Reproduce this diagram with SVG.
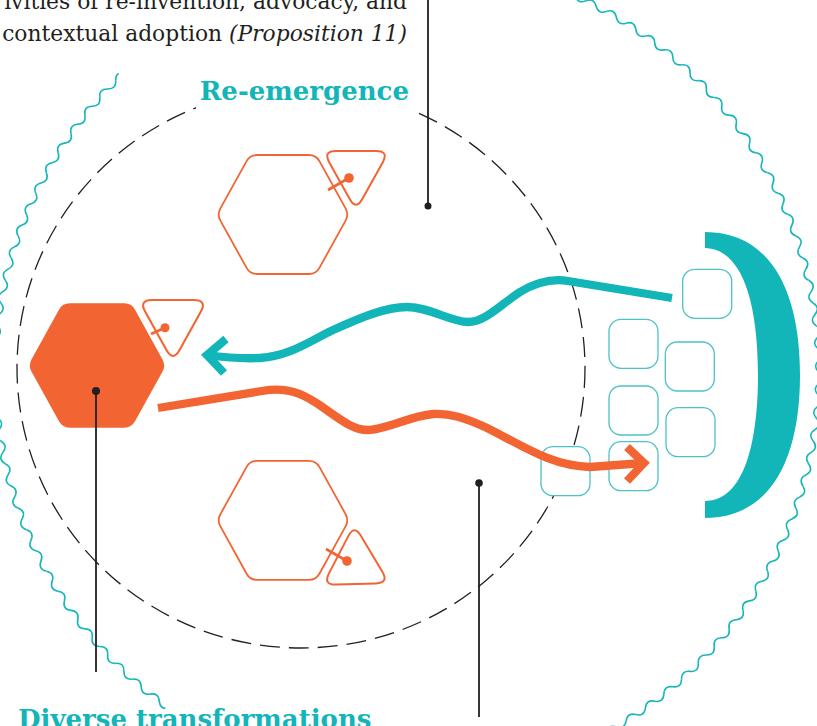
<svg xmlns="http://www.w3.org/2000/svg" width="817" height="726" viewBox="0 0 817 726">
<style>
.wave{fill:none;stroke:#17b6b9;stroke-width:1.6}
.hexo{fill:#fff;stroke:#f26532;stroke-width:1.8}
.hexf{fill:#f26532}
.tri{fill:none;stroke:#f26532;stroke-width:2}
.pin{stroke:#f26532;stroke-width:2.6}
.pdot{fill:#f26532}
.sq{fill:#fff;stroke:#4cc3c5;stroke-width:1.3}
.lead{stroke:#231f20;stroke-width:1.8;fill:none}
.dot{fill:#231f20}
.lbl{font-family:"DejaVu Serif","Liberation Serif",serif;font-weight:bold;font-size:26px;fill:#12b5b8}
.body{font-family:"DejaVu Serif","Liberation Serif",serif;font-size:21.8px;fill:#231f20}
.tline{fill:none;stroke:#12b5b8;stroke-width:8.3}
.oline{fill:none;stroke:#f26532;stroke-width:8.3}
</style>
<defs>
<path id="w1" d="M0,-412 Q5.87,-418.46 11.555,-411.84 Q17.06,-405.14 23.10,-411.35"/>
<g id="w2"><use href="#w1"/><use href="#w1" transform="rotate(3.2142857)"/></g>
<g id="w4"><use href="#w2"/><use href="#w2" transform="rotate(6.4285714)"/></g>
<g id="w8"><use href="#w4"/><use href="#w4" transform="rotate(12.857143)"/></g>
<g id="w16"><use href="#w8"/><use href="#w8" transform="rotate(25.714286)"/></g>
<g id="w32"><use href="#w16"/><use href="#w16" transform="rotate(51.428571)"/></g>
<g id="w64"><use href="#w32"/><use href="#w32" transform="rotate(102.85714)"/></g>
<clipPath id="waveclip" clipPathUnits="userSpaceOnUse">
<rect x="407" y="-200" width="600" height="1200"/>
<polygon points="407,372 56.9,859.2 -300,800 -300,-100 -9.8,-59.6"/>
</clipPath>
<path id="hex" d="M-26,-59.5 L26,-59.5 Q33,-59.5 36.4,-53.4 L62.6,-6.1 Q66,0 62.6,6.1 L36.4,53.4 Q33,59.5 26,59.5 L-26,59.5 Q-33,59.5 -36.4,53.4 L-62.6,6.1 Q-66,0 -62.6,-6.1 L-36.4,-53.4 Q-33,-59.5 -26,-59.5 Z"/>
<path id="tri" d="M-20,0 L20,0 Q33,0 26.7,11.4 L6.3,48.1 Q0,59.5 -6.3,48.1 L-26.7,11.4 Q-33,0 -20,0 Z"/>
</defs>

<g id="outer-circle" class="wave" clip-path="url(#waveclip)">
<g transform="translate(407,372)">
<use href="#w64"/>
<use href="#w32" transform="rotate(205.71429)"/>
<use href="#w16" transform="rotate(308.57143)"/>
</g>
</g>

<g id="inner-circle">
<ellipse cx="301" cy="368" rx="284" ry="280" fill="none" stroke="#231f20" stroke-width="1.3" stroke-dasharray="20 9"/>
<rect x="196" y="68" width="220" height="45" fill="#fff"/>
</g>

<g id="hex-top">
<use href="#hex" class="hexo" transform="translate(283,214.5)"/>
<use href="#tri" class="tri" transform="translate(356,151)"/>
<line class="pin" x1="328" y1="190" x2="349" y2="178"/>
<circle class="pdot" cx="349" cy="178" r="4.8"/>
</g>

<g id="hex-left">
<use href="#hex" class="hexf" transform="translate(97,365.5) scale(1.045)"/>
<use href="#tri" class="tri" transform="translate(173,300) scale(1.04)"/>
<line class="pin" x1="151" y1="334" x2="165" y2="327.7"/>
<circle class="pdot" cx="165" cy="327.7" r="4.5"/>
</g>

<g id="hex-bottom">
<use href="#hex" class="hexo" transform="translate(283,520.3)"/>
<use href="#tri" class="tri" transform="translate(356,584) rotate(178.3)"/>
<line class="pin" x1="326" y1="549" x2="347" y2="561"/>
<circle class="pdot" cx="347" cy="561" r="4.8"/>
</g>

<g id="squares">
<rect class="sq" x="682.7" y="269.3" width="49" height="49" rx="12"/>
<rect class="sq" x="609" y="319.3" width="49" height="49" rx="12"/>
<rect class="sq" x="665.3" y="342" width="49" height="49" rx="12"/>
<rect class="sq" x="609" y="386" width="49" height="49" rx="12"/>
<rect class="sq" x="666" y="407.7" width="49" height="49" rx="12"/>
<rect class="sq" x="609" y="441.7" width="49" height="49" rx="12"/>
<rect class="sq" x="541" y="446.7" width="49" height="49" rx="12"/>
</g>

<g id="bracket">
<path fill="#12b5b8" d="M705,232 C770,232 800,290 800,375 C800,460 770,518 705,518 L705,501 C745,501 758,440 758,375 C758,310 745,249 705,248 Z"/>
</g>

<g id="connectors">
<path class="tline" d="M672,298 L568,281 C550,278 535,283 520,292 C500,305 485,322 468,322 C450,322 430,307 407,307 C385,307 360,318 333,330 C310,341 290,356 260,358 C240,359 222,357 207,355"/>
<polyline class="tline" points="226,339 207,355 224,373"/>
<path class="oline" d="M158,408 L262,391 C285,387 300,392 318,404 C340,419 352,430 368,430 C385,430 410,416 433,414 C450,413 465,418 485,427 C520,444 550,466 590,467 L644,463"/>
<polyline class="oline" points="627,447 644,463 627,481"/>
<line class="lead" x1="428" y1="0" x2="428" y2="206"/>
<circle class="dot" cx="428" cy="206" r="3.5"/>
<line class="lead" x1="96" y1="391" x2="96" y2="672"/>
<circle class="dot" cx="96" cy="391" r="4"/>
<line class="lead" x1="479" y1="483" x2="479" y2="717"/>
<circle class="dot" cx="479" cy="483" r="3.8"/>
</g>

<g id="labels">
<text class="body" x="407" y="9" text-anchor="end">ivities of re-invention, advocacy, and</text>
<text class="body" x="407" y="41" text-anchor="end">contextual adoption <tspan font-style="italic">(Proposition 11)</tspan></text>
<text class="lbl" x="409" y="100" text-anchor="end">Re-emergence</text>
<text class="lbl" x="18" y="728">Diverse transformations</text>
</g>
</svg>
